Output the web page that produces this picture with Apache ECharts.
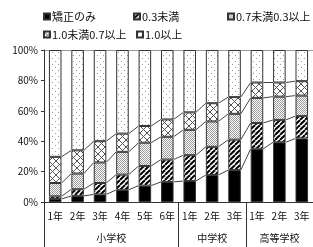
<!DOCTYPE html>
<html>
<head>
<meta charset="utf-8">
<script src="https://cdn.jsdelivr.net/npm/echarts@6/dist/echarts.min.js"></script>
<style>
html, body { margin: 0; padding: 0; background: #fff; }
#main { width: 313px; height: 247px; }
</style>
</head>
<body>
<div id="main"></div>
<script>
// 学年・学校
var grades = ['1年', '2年', '3年', '4年', '5年', '6年', '1年', '2年', '3年', '1年', '2年', '3年'];
var schools = ['小学校', '中学校', '高等学校'];
var schoolCenters = [3, 7.5, 10.5];
var schoolBounds = [0, 6, 9, 12];
var yTicks = [0, 20, 40, 60, 80, 100];

// 視力の割合 (%)
var kyoseiOnly = [2.0, 4.0, 5.0, 8.0, 10.8, 13.2, 13.8, 17.8, 21.0, 35.0, 39.3, 41.8];
var under03    = [1.7, 4.4, 7.5, 10.0, 12.9, 14.7, 17.0, 18.5, 20.0, 17.0, 14.7, 14.7];
var from03to07 = [8.8, 10.3, 13.5, 15.0, 15.3, 15.0, 16.7, 16.7, 17.0, 16.5, 15.3, 13.5];
var from07to10 = [17.2, 15.3, 14.0, 12.0, 11.0, 11.4, 11.5, 12.0, 11.0, 10.1, 9.3, 9.5];
var over10     = [70.3, 66.0, 60.0, 55.0, 50.0, 45.7, 41.0, 35.0, 31.0, 21.4, 21.4, 20.5];

var names = ['矯正のみ', '0.3未満', '0.7未満0.3以上', '1.0未満0.7以上', '1.0以上'];
var FONT = "'Noto Sans CJK JP', sans-serif";
var BAR_RATIO = 0.56;

function makePattern(w, h, draw) {
    var c = document.createElement('canvas');
    c.width = w; c.height = h;
    var ctx = c.getContext('2d');
    ctx.fillStyle = '#fff';
    ctx.fillRect(0, 0, w, h);
    draw(ctx);
    return { image: c, repeat: 'repeat' };
}

var hatch = makePattern(5, 5, function (ctx) {
    ctx.strokeStyle = '#000';
    ctx.lineWidth = 2;
    for (var k = -1; k <= 1; k++) {
        ctx.beginPath();
        ctx.moveTo(k * 5, 5);
        ctx.lineTo(k * 5 + 5, 0);
        ctx.stroke();
    }
});
var fineDots = makePattern(2, 2, function (ctx) {
    ctx.fillStyle = '#999';
    ctx.fillRect(0, 0, 1, 1);
    ctx.fillRect(1, 1, 1, 1);
});
var cross = makePattern(7, 7, function (ctx) {
    ctx.strokeStyle = '#555';
    ctx.lineWidth = 1;
    ctx.beginPath();
    ctx.moveTo(0, 0); ctx.lineTo(7, 7);
    ctx.moveTo(0, 7); ctx.lineTo(7, 0);
    ctx.stroke();
});
var sparseDots = makePattern(6, 6, function (ctx) {
    ctx.fillStyle = '#999';
    ctx.fillRect(1, 1, 1, 1);
    ctx.fillRect(4, 4, 1, 1);
});

var seriesData = [kyoseiOnly, under03, from03to07, from07to10, over10];
var fills = ['#000', hatch, fineDots, cross, sparseDots];

// 累積値 (区分線用)
var cum = [];
var running = grades.map(function () { return 0; });
for (var s = 0; s < 4; s++) {
    running = running.map(function (v, i) { return v + seriesData[s][i]; });
    cum.push(running.slice());
}

var series = seriesData.map(function (d, s) {
    return {
        name: names[s],
        type: 'bar',
        stack: 'total',
        barWidth: (BAR_RATIO * 100) + '%',
        data: d,
        itemStyle: { color: fills[s], borderColor: '#333', borderWidth: 1 },
        emphasis: { disabled: true }
    };
});

series.push({
    type: 'custom',
    silent: true,
    z: 3,
    data: grades.map(function (g, i) { return [i]; }),
    renderItem: function (params, api) {
        var i = api.value(0);
        if (i >= grades.length - 1) return;
        var bw = api.size([1, 0])[0] * BAR_RATIO;
        var children = [];
        for (var k = 0; k < cum.length; k++) {
            var p1 = api.coord([i, cum[k][i]]);
            var p2 = api.coord([i + 1, cum[k][i + 1]]);
            children.push({
                type: 'line',
                shape: { x1: p1[0] + bw / 2, y1: p1[1], x2: p2[0] - bw / 2, y2: p2[1] },
                style: { stroke: '#444', lineWidth: 1 }
            });
        }
        return { type: 'group', children: children };
    }
});

var legendPos = [[38, 6], [128, 6], [222, 6], [38, 24], [131, 24]];
var legends = names.map(function (n, i) {
    return {
        data: [n],
        left: legendPos[i][0],
        top: legendPos[i][1],
        itemWidth: 6,
        itemHeight: 6,
        icon: 'rect',
        selectedMode: false,
        textStyle: { fontFamily: FONT, fontSize: 11, color: '#111', padding: [0, 0, 0, -3] }
    };
});

var option = {
    animation: false,
    legend: legends,
    grid: { left: 44, right: -3, top: 50, bottom: 45 },
    xAxis: [
        {
            type: 'category',
            data: grades,
            axisLine: { lineStyle: { color: '#333', width: 1 } },
            axisTick: { show: false },
            axisLabel: { fontFamily: FONT, fontSize: 10, color: '#111', margin: 9, interval: 0 }
        },
        {
            type: 'value',
            min: 0,
            max: 12,
            position: 'bottom',
            axisLine: { show: false },
            splitLine: { show: false },
            axisTick: {
                show: true,
                customValues: schoolBounds,
                length: 46,
                lineStyle: { color: '#333', width: 1 }
            },
            axisLabel: {
                customValues: schoolCenters,
                fontFamily: FONT,
                fontSize: 10,
                color: '#111',
                margin: 31,
                formatter: function (v) {
                    return schools[schoolCenters.indexOf(v)];
                }
            }
        }
    ],
    yAxis: {
        type: 'value',
        min: 0,
        max: 100,
        interval: 20,
        axisLine: { show: true, lineStyle: { color: '#333', width: 1 } },
        axisTick: { show: true, length: 3, lineStyle: { color: '#333' } },
        axisLabel: {
            fontFamily: FONT,
            fontSize: 10,
            color: '#111',
            margin: 6,
            formatter: '{value}%'
        },
        splitLine: {
            show: true,
            lineStyle: {
                color: yTicks.map(function (t) { return t === 100 ? '#999' : 'rgba(0,0,0,0)'; }),
                width: 1
            }
        }
    },
    series: series
};

var myChart = echarts.init(document.getElementById('main'));
myChart.setOption(option);
</script>
</body>
</html>
